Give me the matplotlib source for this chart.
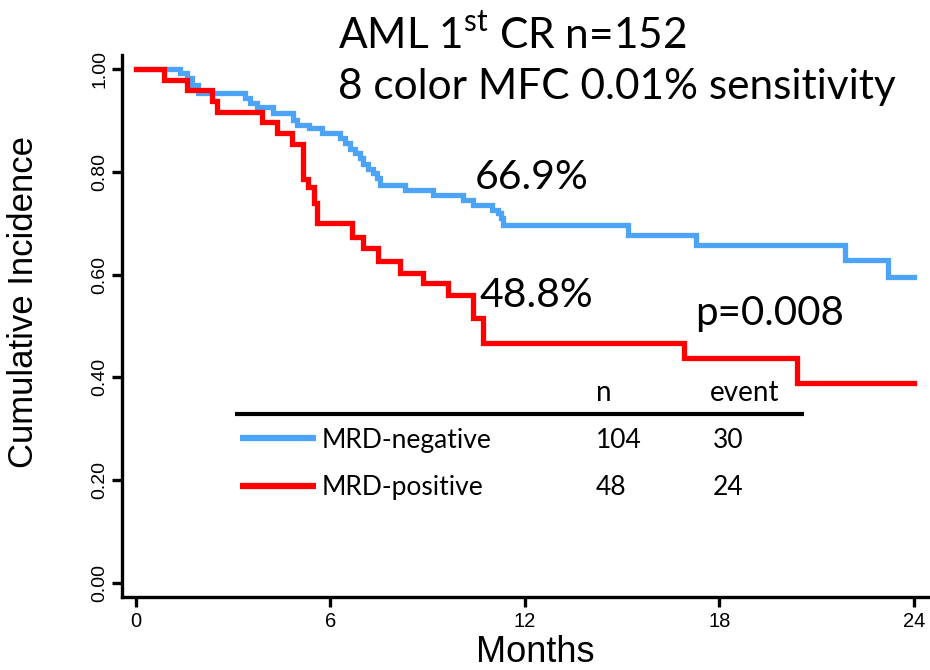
import matplotlib
matplotlib.use('Agg')
import matplotlib.pyplot as plt

# step curves (months, cumulative incidence)
neg_time = [0, 1.36, 1.58, 1.73, 1.91, 3.37, 3.52, 3.74, 4.23, 4.85, 4.97, 5.35, 5.75,
            6.30, 6.45, 6.60, 6.75, 6.90, 7.00, 7.15, 7.30, 7.45, 7.54, 8.31, 9.17,
            10.10, 10.41, 11.00, 11.18, 11.25, 11.34, 15.17, 17.27, 21.87, 23.20, 24.0]
neg_value = [1.0, 0.992, 0.982, 0.969, 0.953, 0.944, 0.934, 0.926, 0.914, 0.900, 0.891, 0.885, 0.875,
             0.865, 0.855, 0.845, 0.836, 0.826, 0.816, 0.806, 0.797, 0.787, 0.774, 0.765, 0.755,
             0.745, 0.735, 0.726, 0.720, 0.710, 0.697, 0.677, 0.658, 0.628, 0.595, 0.595]

pos_time = [0, 0.87, 1.58, 2.35, 2.50, 3.89, 4.35, 4.82, 5.15, 5.30, 5.50, 5.60, 6.67,
            7.01, 7.47, 8.15, 8.86, 9.63, 10.41, 10.72, 16.90, 20.40, 24.0]
pos_value = [1.0, 0.979, 0.958, 0.937, 0.917, 0.896, 0.875, 0.854, 0.785, 0.770, 0.740, 0.700, 0.673,
             0.652, 0.627, 0.603, 0.584, 0.560, 0.515, 0.467, 0.437, 0.389, 0.389]

groups = ['MRD-negative', 'MRD-positive']
group_n = [104, 48]
group_events = [30, 24]
x_ticks = [0, 6, 12, 18, 24]
y_ticks = [0.0, 0.2, 0.4, 0.6, 0.8, 1.0]

BLUE = '#4da3f5'
RED = '#ff0000'

plt.rcParams['mathtext.fontset'] = 'custom'
plt.rcParams['mathtext.rm'] = 'Lato'
ann_font = ['Lato', 'DejaVu Sans']
axis_font = ['Liberation Sans', 'DejaVu Sans']

fig = plt.figure(figsize=(9.3, 6.7), dpi=100)
ax = fig.add_axes([122 / 930, 73 / 670, 808 / 930, 542 / 670])

ax.step(neg_time, neg_value, where='post', color=BLUE, linewidth=3.8, solid_joinstyle='miter')
ax.step(pos_time, pos_value, where='post', color=RED, linewidth=3.8, solid_joinstyle='miter')

ax.set_xlim(-0.43, 24.5)
ax.set_ylim(-0.027, 1.027)
ax.set_xticks(x_ticks)
ax.set_xticklabels([str(t) for t in x_ticks], fontsize=14.5, family=axis_font)
ax.set_yticks(y_ticks)
ax.set_yticklabels(['%.2f' % t for t in y_ticks], fontsize=14, family=axis_font,
                   rotation=90, va='center')

for side in ['top', 'right']:
    ax.spines[side].set_visible(False)
for side in ['left', 'bottom']:
    ax.spines[side].set_linewidth(2.4)
ax.tick_params(axis='both', length=7, width=2.4, color='black')
ax.tick_params(axis='x', pad=4)
ax.tick_params(axis='y', pad=3)

ax.set_xlabel('Months', fontsize=26, family=axis_font)
ax.set_ylabel('Cumulative Incidence', fontsize=25, family=axis_font)
ax.xaxis.set_label_coords(0.511, -0.07)
ax.yaxis.set_label_coords(-0.101, 0.545)

# header
fig.text(338 / 930, 1 - 48 / 670, r'AML 1$^{\mathrm{st}}$ CR n=152', fontsize=30.5,
         family=ann_font, va='baseline')
fig.text(338 / 930, 1 - 99 / 670, '8 color MFC 0.01% sensitivity', fontsize=30.5,
         family=ann_font, va='baseline')

# annotations
ax.text(10.46, 0.788, '66.9%', fontsize=29.5, family=ann_font, va='center')
ax.text(10.6, 0.56, '48.8%', fontsize=29.5, family=ann_font, va='center')
ax.text(17.25, 0.525, 'p=0.008', fontsize=29, family=ann_font, va='center')

# legend table
ax.plot([3.06, 20.6], [0.329, 0.329], color='black', linewidth=3, solid_capstyle='butt')
ax.text(14.2, 0.37, 'n', fontsize=20, family=ann_font, va='center')
ax.text(17.7, 0.37, 'event', fontsize=20, family=ann_font, va='center')
row_y = [0.278, 0.185]
for name, n, ev, color, y in zip(groups, group_n, group_events, [BLUE, RED], row_y):
    ax.plot([3.21, 5.56], [y + 0.004, y + 0.004], color=color, linewidth=4.5, solid_capstyle='butt')
    ax.text(5.74, y, name, fontsize=19, family=ann_font, va='center')
    ax.text(14.2, y, str(n), fontsize=19, family=ann_font, va='center')
    ax.text(17.8, y, str(ev), fontsize=19, family=ann_font, va='center')

fig.savefig('out.png', dpi=100)
